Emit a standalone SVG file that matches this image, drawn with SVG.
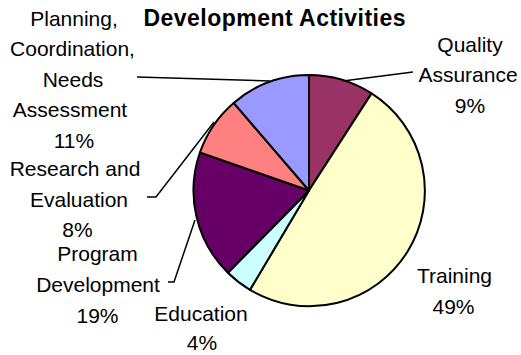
<svg xmlns="http://www.w3.org/2000/svg" width="521" height="355" viewBox="0 0 521 355">
<style>
text{font-family:"Liberation Sans",Arial,sans-serif;font-size:21px;fill:#000;text-anchor:middle}
.title{font-weight:bold;font-size:23px}
.slice{stroke:#000;stroke-width:2;stroke-linejoin:round}
.conn{fill:none;stroke:#000;stroke-width:1.5}
</style>
<rect width="521" height="355" fill="#fff"/>
<text class="title" x="274.5" y="26" textLength="262" lengthAdjust="spacing">Development Activities</text>
<g id="pie">
<g id="quality-assurance"><path class="slice" fill="#993366" d="M309,190.5 L309,75 A115.5,115.5 0 0 1 371.57,93.41 Z"/></g>
<g id="training"><path class="slice" fill="#FFFFCC" d="M309,190.5 L371.57,93.41 A115.5,115.5 0 0 1 250.01,289.81 Z"/></g>
<g id="education"><path class="slice" fill="#CCFFFF" d="M309,190.5 L250.01,289.81 A115.5,115.5 0 0 1 227.9,272.74 Z"/></g>
<g id="program-development"><path class="slice" fill="#660066" d="M309,190.5 L227.9,272.74 A115.5,115.5 0 0 1 199.92,152.51 Z"/></g>
<g id="research-evaluation"><path class="slice" fill="#FF8080" d="M309,190.5 L199.92,152.51 A115.5,115.5 0 0 1 233.68,102.94 Z"/></g>
<g id="planning"><path class="slice" fill="#9999FF" d="M309,190.5 L233.68,102.94 A115.5,115.5 0 0 1 309,75 Z"/></g>
</g>
<g id="connectors">
<polyline class="conn" points="137,77 270,81"/>
<polyline class="conn" points="413,72 343,81"/>
<polyline class="conn" points="147,197 156,197 214,122"/>
<polyline class="conn" points="168,282 174,282 195,220"/>
</g>
<g id="label-planning">
<text x="74" y="25.5">Planning,</text>
<text x="72.5" y="56">Coordination,</text>
<text x="73" y="86.5">Needs</text>
<text x="70" y="117">Assessment</text>
<text x="74" y="147.5">11%</text>
</g>
<g id="label-quality">
<text x="470" y="52">Quality</text>
<text x="468" y="82">Assurance</text>
<text x="470" y="113">9%</text>
</g>
<g id="label-research">
<text x="75" y="176">Research and</text>
<text x="79" y="206.5">Evaluation</text>
<text x="77.5" y="237">8%</text>
</g>
<g id="label-program">
<text x="97.5" y="261">Program</text>
<text x="98" y="292">Development</text>
<text x="97.5" y="323">19%</text>
</g>
<g id="label-education">
<text x="201" y="321">Education</text>
<text x="202" y="350">4%</text>
</g>
<g id="label-training">
<text x="454.5" y="283">Training</text>
<text x="453.5" y="314">49%</text>
</g>
</svg>
